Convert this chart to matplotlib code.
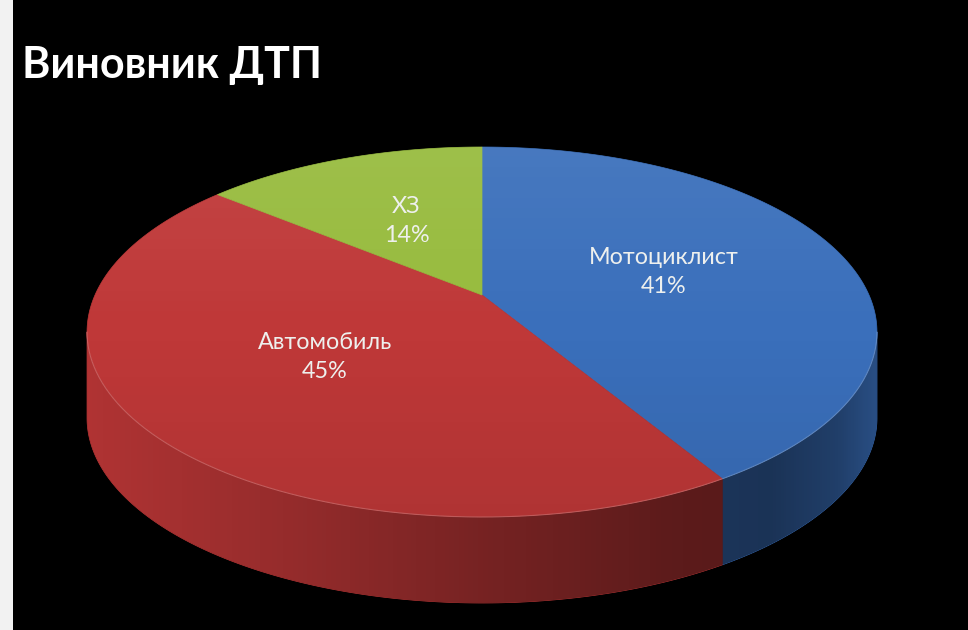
import numpy as np
import matplotlib
matplotlib.use("Agg")
import matplotlib.pyplot as plt
from matplotlib.patches import Polygon, Rectangle

# slice data, clockwise from 12 o'clock
labels = ["Мотоциклист", "Автомобиль", "ХЗ"]
shares = [41.4, 44.6, 14.0]
colors = ["#3a6fbb", "#bf3838", "#97bb3d"]
title = "Виновник ДТП"

# projection of the 3d disc onto the image (pixel coords)
CX, CY = 482, 295      # apex of the slices
RX, RY = 387, 177.6
K = 0.2                # perspective
DEPTH = 86


def proj(theta, r=1.0):
    u = r * np.sin(theta)
    v = r * np.cos(theta)
    w = 1 + K * v
    return CX + RX * u / w, CY - RY * v / w


fig = plt.figure(figsize=(9.68, 6.3), dpi=100)
fig.patch.set_facecolor("black")
ax = fig.add_axes([0, 0, 1, 1])
ax.set_facecolor("black")

fracs = np.array(shares) / np.sum(shares)
edges = np.concatenate([[0], np.cumsum(fracs)]) * 2 * np.pi

# side wall, only the front half is visible
t_lo = np.arccos(-K)
t_hi = 2 * np.pi - t_lo
for k in range(len(shares)):
    a = max(edges[k], t_lo)
    b = min(edges[k + 1], t_hi)
    if a >= b:
        continue
    th = np.linspace(a, b, 200)
    xs, ys = proj(th)
    pts = list(zip(xs, ys)) + list(zip(xs[::-1], ys[::-1] + DEPTH))
    ax.add_patch(Polygon(pts, closed=True, facecolor=colors[k],
                         edgecolor=colors[k], lw=0.5, zorder=1))

# lighting of the side wall, dark towards the right
th = np.linspace(t_lo, t_hi, 400)
sx, sy = proj(th)
side_clip = Polygon(list(zip(sx, sy)) + list(zip(sx[::-1], sy[::-1] + DEPTH)),
                    closed=True, transform=ax.transData)
cols = np.linspace(sx.min(), sx.max(), 400)
uu = (cols - CX) / RX
light = np.interp(uu, [-1.02, -0.5, 0, 0.5, 0.75, 0.92, 1.02],
                  [0.92, 0.78, 0.62, 0.48, 0.46, 0.56, 0.7])
shadow = np.zeros((1, len(cols), 4))
shadow[0, :, 3] = 1 - light
im = ax.imshow(shadow, extent=(sx.min(), sx.max(), sy.max() + DEPTH, sy.min()),
               aspect="auto", zorder=2, interpolation="bilinear")
im.set_clip_path(side_clip)

# top surface
for k in range(len(shares)):
    th = np.linspace(edges[k], edges[k + 1], 200)
    xs, ys = proj(th)
    pts = [(CX, CY)] + list(zip(xs, ys))
    ax.add_patch(Polygon(pts, closed=True, facecolor=colors[k],
                         edgecolor=colors[k], lw=0.5, zorder=3))

# soft light on the top face
th = np.linspace(0, 2 * np.pi, 400)
ex, ey = proj(th)
clip = Polygon(list(zip(ex, ey)), closed=True, transform=ax.transData)
g = np.linspace(0, 1, 256)
img = np.zeros((256, 1, 4))
img[:, 0, :3] = np.where(g < 0.5, 1.0, 0.0)[:, None]
img[:, 0, 3] = np.where(g < 0.5, 0.07 * (1 - 2 * g), 0.08 * (2 * g - 1))
im2 = ax.imshow(img, extent=(ex.min(), ex.max(), ey.max(), ey.min()),
                aspect="auto", zorder=4, interpolation="bilinear")
im2.set_clip_path(clip)

# rim highlight on the front edge
tr = np.linspace(t_lo, t_hi, 300)
rx, ry = proj(tr)
ax.plot(rx, ry, color="white", alpha=0.2, lw=0.8, zorder=5)

# data labels
for k in range(len(shares)):
    tm = (edges[k] + edges[k + 1]) / 2
    lx, ly = proj(tm, 0.5)
    ax.text(lx, ly, f"{labels[k]}\n{shares[k]:.0f}%", ha="center", va="center",
            fontsize=16.8, family="Lato", color="#eef0ee", linespacing=1.45, zorder=6)

ax.text(22, 78, title, ha="left", va="baseline", fontsize=31, family="Lato",
        fontweight="bold", color="white", zorder=6)

# light strip on the left border of the picture
ax.add_patch(Rectangle((0, 0), 13, 630, facecolor="#f2f2f2", edgecolor="none", zorder=7))

ax.set_xlim(0, 968)
ax.set_ylim(630, 0)
ax.axis("off")

fig.savefig("out.png", dpi=100, facecolor="black")
